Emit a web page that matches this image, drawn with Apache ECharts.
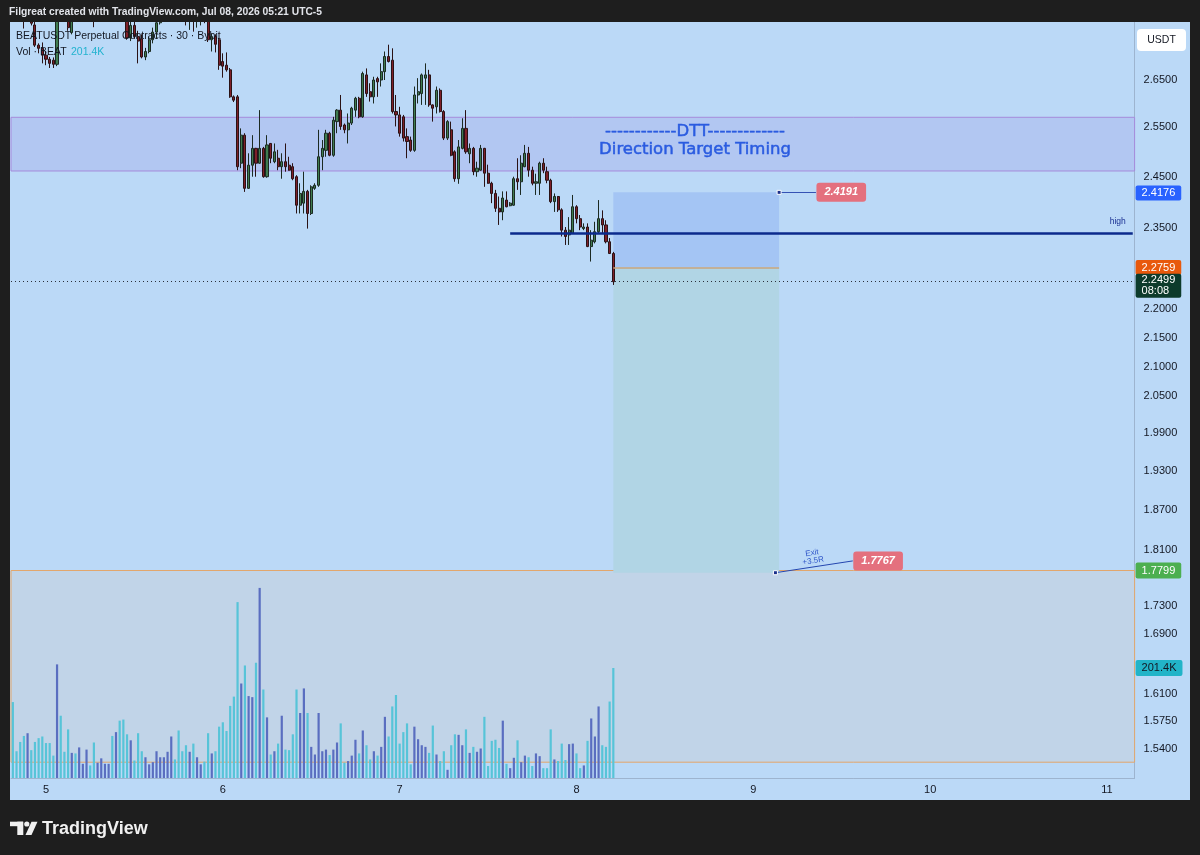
<!DOCTYPE html>
<html><head><meta charset="utf-8">
<script src="https://cdn.jsdelivr.net/npm/echarts@6/dist/echarts.min.js"></script>
<style>html,body{margin:0;padding:0;background:#1e1e1e;}#c{width:1200px;height:855px;}</style>
</head><body><div id="c"></div>
<script>
// ---- data (30-minute candles, BEATUSDT) : [open, close, low, high]
const candles = [
[2.815,2.805,2.795,2.830],[2.805,2.800,2.790,2.818],[2.800,2.795,2.785,2.812],[2.795,2.788,2.763,2.805],
[2.788,2.800,2.782,2.810],[2.800,2.775,2.770,2.808],[2.771,2.726,2.722,2.790],[2.726,2.719,2.708,2.730],
[2.719,2.704,2.686,2.732],[2.704,2.695,2.682,2.712],[2.695,2.686,2.676,2.700],[2.693,2.684,2.676,2.699],
[2.684,2.795,2.680,2.805],[2.795,2.788,2.780,2.808],[2.788,2.782,2.779,2.800],[2.782,2.765,2.758,2.790],
[2.754,2.792,2.750,2.805],[2.792,2.785,2.780,2.800],[2.785,2.800,2.781,2.810],[2.800,2.808,2.795,2.815],
[2.808,2.815,2.800,2.825],[2.815,2.805,2.798,2.820],[2.805,2.790,2.766,2.810],[2.790,2.806,2.784,2.815],
[2.806,2.815,2.800,2.826],[2.815,2.822,2.808,2.830],[2.822,2.828,2.815,2.836],[2.828,2.812,2.805,2.835],
[2.812,2.820,2.805,2.830],[2.820,2.800,2.790,2.826],[2.800,2.785,2.779,2.806],[2.785,2.742,2.738,2.792],
[2.742,2.770,2.735,2.785],[2.770,2.745,2.740,2.780],[2.745,2.735,2.686,2.758],[2.740,2.700,2.697,2.750],
[2.700,2.712,2.693,2.720],[2.712,2.738,2.708,2.745],[2.738,2.755,2.730,2.765],[2.755,2.776,2.740,2.790],
[2.776,2.800,2.772,2.812],[2.800,2.815,2.792,2.826],[2.815,2.822,2.806,2.830],[2.822,2.835,2.815,2.845],
[2.835,2.826,2.815,2.840],[2.826,2.805,2.796,2.832],[2.805,2.796,2.785,2.812],[2.796,2.785,2.770,2.805],
[2.785,2.795,2.760,2.808],[2.795,2.785,2.756,2.805],[2.785,2.795,2.765,2.805],[2.795,2.800,2.770,2.808],
[2.800,2.788,2.775,2.805],[2.788,2.738,2.733,2.795],[2.738,2.745,2.712,2.752],[2.745,2.728,2.710,2.750],
[2.738,2.682,2.672,2.742],[2.690,2.680,2.655,2.708],[2.682,2.672,2.668,2.710],[2.672,2.614,2.612,2.676],
[2.614,2.607,2.603,2.617],[2.614,2.470,2.463,2.618],[2.477,2.534,2.467,2.548],[2.534,2.427,2.420,2.538],
[2.427,2.473,2.426,2.497],[2.473,2.507,2.450,2.534],[2.507,2.477,2.450,2.508],[2.477,2.507,2.476,2.586],
[2.507,2.450,2.448,2.510],[2.450,2.514,2.448,2.534],[2.517,2.487,2.477,2.518],[2.480,2.500,2.477,2.517],
[2.487,2.470,2.463,2.504],[2.470,2.480,2.446,2.497],[2.480,2.470,2.460,2.517],[2.473,2.463,2.462,2.490],
[2.470,2.446,2.443,2.477],[2.450,2.394,2.378,2.453],[2.394,2.417,2.378,2.437],[2.398,2.421,2.378,2.460],
[2.421,2.378,2.349,2.424],[2.378,2.430,2.375,2.433],[2.427,2.433,2.424,2.437],[2.433,2.490,2.430,2.545],
[2.490,2.507,2.463,2.524],[2.503,2.538,2.490,2.545],[2.538,2.493,2.491,2.541],[2.493,2.565,2.490,2.572],
[2.562,2.586,2.538,2.588],[2.586,2.552,2.545,2.618],[2.555,2.545,2.538,2.558],[2.545,2.559,2.517,2.579],
[2.559,2.590,2.555,2.593],[2.586,2.611,2.572,2.614],[2.611,2.572,2.569,2.614],[2.572,2.664,2.570,2.668],
[2.661,2.621,2.614,2.675],[2.625,2.614,2.604,2.643],[2.614,2.650,2.600,2.657],[2.653,2.646,2.614,2.657],
[2.650,2.668,2.636,2.686],[2.668,2.701,2.650,2.712],[2.701,2.690,2.688,2.727],[2.693,2.583,2.579,2.719],
[2.583,2.576,2.552,2.618],[2.576,2.538,2.531,2.593],[2.572,2.528,2.521,2.576],[2.531,2.521,2.487,2.548],
[2.524,2.503,2.500,2.531],[2.503,2.618,2.500,2.636],[2.618,2.625,2.600,2.654],[2.621,2.661,2.597,2.664],
[2.654,2.661,2.597,2.686],[2.661,2.597,2.593,2.672],[2.597,2.590,2.562,2.598],[2.593,2.628,2.579,2.636],
[2.628,2.583,2.581,2.632],[2.583,2.528,2.524,2.586],[2.528,2.562,2.524,2.565],[2.545,2.493,2.491,2.562],
[2.500,2.446,2.440,2.503],[2.446,2.510,2.436,2.524],[2.507,2.548,2.505,2.569],[2.548,2.500,2.496,2.586],
[2.496,2.507,2.477,2.517],[2.507,2.460,2.453,2.510],[2.460,2.467,2.450,2.480],[2.463,2.507,2.462,2.514],
[2.507,2.457,2.430,2.508],[2.457,2.437,2.436,2.474],[2.437,2.417,2.398,2.440],[2.417,2.388,2.381,2.424],
[2.388,2.381,2.356,2.411],[2.381,2.408,2.365,2.421],[2.404,2.391,2.390,2.421],[2.393,2.398,2.392,2.400],
[2.394,2.446,2.393,2.450],[2.446,2.440,2.424,2.487],[2.440,2.477,2.414,2.493],[2.470,2.497,2.469,2.514],
[2.497,2.463,2.450,2.510],[2.463,2.437,2.433,2.470],[2.437,2.440,2.414,2.456],[2.437,2.477,2.414,2.480],
[2.477,2.463,2.457,2.487],[2.460,2.443,2.437,2.470],[2.443,2.401,2.398,2.446],[2.401,2.411,2.381,2.417],
[2.411,2.385,2.381,2.412],[2.385,2.346,2.334,2.388],[2.346,2.334,2.318,2.352],[2.337,2.346,2.318,2.371],
[2.340,2.391,2.339,2.414],[2.391,2.368,2.359,2.394],[2.368,2.352,2.346,2.375],[2.349,2.352,2.346,2.359],
[2.352,2.315,2.314,2.359],[2.315,2.327,2.287,2.346],[2.324,2.343,2.321,2.362],[2.343,2.368,2.340,2.404],
[2.368,2.356,2.340,2.384],[2.356,2.324,2.321,2.365],[2.324,2.302,2.301,2.331],[2.302,2.2499,2.244,2.305]
];
// volume, thousands of BEAT
const volumesK = [
139,49,66,77,82,51,66,73,76,64, 64,41,208,114,48,89,46,45,56,26,
52,23,65,28,36,26,26,77,84,105, 107,80,69,32,82,49,38,25,29,49,
38,38,48,76,34,87,49,60,48,63, 38,25,30,82,45,49,94,102,86,132,
149,322,173,206,150,148,211,348,162,111, 43,49,63,114,52,51,80,162,119,164,
119,57,43,119,49,52,42,52,65,100, 28,31,41,70,45,87,60,34,49,41,
57,112,76,131,152,63,84,100,25,94, 71,60,57,46,96,43,31,49,15,60,
80,79,60,89,46,57,48,54,112,22, 68,70,55,105,26,18,37,69,29,41,
38,22,45,40,18,18,89,34,31,63, 33,62,63,45,18,23,68,109,76,131,
60,57,140,201.4
];
const priceTicks = [2.65,2.55,2.45,2.35,2.20,2.15,2.10,2.05,1.99,1.93,1.87,1.81,1.73,1.69,1.61,1.575,1.54];
const dayTickLabels = ['5','6','7','8','9','10','11'];
const priceRange = [1.5041, 2.7777];
const volumeAxisMaxK = 1384;
const dttZone = [2.4614, 2.5710];
const lowerZone = [1.5235, 1.7799];
const highLevel = 2.3406;
const lastPrice = 2.2499, lastVolumeK = 201.4, countdown = '08:08';
const entryPrice = 2.2759, stopPrice = 2.4191, targetPrice = 1.7767, stopAxisPrice = 2.4176;
const positionSlots = [163, 208];   // candle slots spanned by the short-position tool
const highLineStart = 135;
const exitLabelLevel = 1.7938;

// ---- time slots: 30 minute steps starting Jul 4 19:30
const slotCount = 305, firstDay = 4, startMinutes = 19 * 60 + 30;
const categories = [];
for (let k = 0; k < slotCount; k++) {
  const m = startMinutes + 30 * k;
  const d = firstDay + Math.floor(m / 1440), hm = m % 1440;
  categories.push(d + ' ' + String(Math.floor(hm / 60)).padStart(2, '0') + ':' + String(hm % 60).padStart(2, '0'));
}
const L = Math.log;
const fmt4 = v => v.toFixed(4);

const axisBox = (text, bg, fg, extra) => Object.assign({
  show: true, position: 'end', distance: 1, formatter: text, backgroundColor: bg, color: fg,
  fontSize: 11, fontFamily: 'Liberation Sans', lineHeight: 11, padding: [2, 6, 2, 6], borderRadius: 2
}, extra || {});

const chart = echarts.init(document.getElementById('c'), null, {renderer: 'canvas'});
const option = {
  backgroundColor: '#1e1e1e',
  animation: false,
  grid: {left: 11, right: 65.4, top: 22, bottom: 77},
  xAxis: {
    type: 'category', data: categories, boundaryGap: true,
    axisLine: {show: true, lineStyle: {color: '#9db4cf', width: 1}},
    axisTick: {show: false}, splitLine: {show: false},
    axisLabel: {
      interval: (i, v) => v.endsWith(' 00:00'),
      formatter: v => { const d = v.split(' ')[0]; return dayTickLabels.includes(d) ? d : ''; },
      color: '#131722', fontSize: 11, fontFamily: 'Liberation Sans', margin: 6
    }
  },
  yAxis: [{
    type: 'value', position: 'right', min: L(priceRange[0]), max: L(priceRange[1]),
    splitLine: {show: false}, axisTick: {show: false},
    axisLine: {show: true, lineStyle: {color: '#9db4cf'}},
    axisLabel: {customValues: priceTicks.map(L), formatter: v => Math.exp(v).toFixed(4),
      color: '#131722', fontSize: 11, fontFamily: 'Liberation Sans', margin: 9}
  }, {
    type: 'value', min: 0, max: volumeAxisMaxK, show: false
  }],
  series: [{
    type: 'candlestick', name: 'BEATUSDT',
    data: candles.map(c => c.map(L)),
    barWidth: 2.6, clip: true,
    itemStyle: {color: '#3f7c50', color0: '#7e1f29', borderColor: '#1c2a22', borderColor0: '#2a1215', borderWidth: 1},
    markArea: {
      silent: true,
      data: [
        [{yAxis: L(dttZone[1]), itemStyle: {color: '#b2c7f2', borderColor: '#a68bdb', borderWidth: 1}}, {yAxis: L(dttZone[0])}],
        [{yAxis: L(lowerZone[1]), itemStyle: {color: '#c1d4e8', borderColor: '#e2a66c', borderWidth: 1}}, {yAxis: L(lowerZone[0])}],
        [{coord: [positionSlots[0], L(stopPrice)], itemStyle: {color: '#a4c5f4'}}, {coord: [positionSlots[1], L(entryPrice)]}],
        [{coord: [positionSlots[0], L(entryPrice)], itemStyle: {color: '#b1d5e5'}}, {coord: [positionSlots[1], L(targetPrice)]}]
      ]
    },
    markLine: {
      silent: true, symbol: ['none', 'none'], animation: false, precision: 10,
      data: [
        [{coord: [highLineStart, L(highLevel)], lineStyle: {color: '#0b2a8c', width: 2.5, type: 'solid'},
          label: {show: true, position: 'insideEndTop', formatter: 'high', fontSize: 8.5, color: '#1b3193', distance: 7, fontFamily: 'Liberation Sans'}},
         {coord: [slotCount - 1, L(highLevel)]}],
        [{coord: [positionSlots[0], L(entryPrice)], lineStyle: {color: '#c9a47c', width: 1.5, type: 'solid'}, label: {show: false}},
         {coord: [positionSlots[1], L(entryPrice)]}],
        [{coord: [positionSlots[1], L(stopPrice)], lineStyle: {color: '#3552b4', width: 1, type: 'solid'}, label: {show: false}},
         {coord: [218, L(stopPrice)]}],
        [{coord: [positionSlots[1] - 1, L(targetPrice)], lineStyle: {color: '#2446b0', width: 1, type: 'solid'},
          label: {show: true, position: 'middle', formatter: 'Exit\n+3.5R', fontSize: 8, lineHeight: 8, color: '#2f55c9', distance: 2, fontFamily: 'Liberation Sans'}},
         {coord: [228, L(exitLabelLevel)]}],
        {yAxis: L(stopAxisPrice), lineStyle: {color: 'rgba(0,0,0,0)'}, label: axisBox(fmt4(stopAxisPrice), '#2962ff', '#ffffff')},
        {yAxis: L(entryPrice), lineStyle: {color: 'rgba(0,0,0,0)'}, label: axisBox(fmt4(entryPrice), '#e8590c', '#ffffff')},
        {yAxis: L(lastPrice), lineStyle: {color: '#2b2f3a', type: [1, 3], width: 1},
          label: axisBox(fmt4(lastPrice) + '\n' + countdown, '#0d3b2b', '#ffffff', {offset: [0, 4], padding: [1, 6, 1, 6]})},
        {yAxis: L(lowerZone[1]), lineStyle: {color: 'rgba(0,0,0,0)'}, label: axisBox(fmt4(lowerZone[1]), '#4caf50', '#ffffff', {padding: [3, 6, 2, 6]})}
      ]
    },
    markPoint: {
      silent: true, animation: false, symbol: 'rect', symbolSize: 4,
      data: [
        {coord: [positionSlots[1], L(stopPrice)], itemStyle: {color: '#1a2f8a', borderColor: '#ffffff', borderWidth: 1}, label: {show: false}},
        {coord: [positionSlots[1] - 1, L(targetPrice)], itemStyle: {color: '#1a2f8a', borderColor: '#ffffff', borderWidth: 1}, label: {show: false}},
        {coord: [218, L(stopPrice)], symbolSize: 1, itemStyle: {color: 'rgba(0,0,0,0)'},
          label: {show: true, position: 'right', distance: 0, formatter: fmt4(stopPrice), backgroundColor: '#e4707e', color: '#ffffff',
            fontStyle: 'italic', fontWeight: 'bold', fontSize: 11, fontFamily: 'Liberation Sans', padding: [4, 8], borderRadius: 3}},
        {coord: [228, L(exitLabelLevel)], symbolSize: 1, itemStyle: {color: 'rgba(0,0,0,0)'},
          label: {show: true, position: 'right', distance: 0, formatter: fmt4(targetPrice), backgroundColor: '#e4707e', color: '#ffffff',
            fontStyle: 'italic', fontWeight: 'bold', fontSize: 11, fontFamily: 'Liberation Sans', padding: [4, 8], borderRadius: 3}}
      ]
    }
  }, {
    type: 'bar', name: 'Vol', yAxisIndex: 1, z: 3, barWidth: 2.2,
    data: volumesK.map((v, i) => ({value: v, itemStyle: {color: candles[i][1] >= candles[i][0] ? '#5a6ec0' : '#57c4d8'}})),
    markLine: {
      silent: true, symbol: ['none', 'none'], animation: false, precision: 10,
      data: [{yAxis: lastVolumeK, lineStyle: {color: 'rgba(0,0,0,0)'}, label: axisBox(lastVolumeK + 'K', '#22b4c8', '#131722', {padding: [3, 6, 2, 6]})}]
    }
  }],
  graphic: [
    {type: 'rect', silent: true, z: -100, shape: {x: 10, y: 22, width: 1180, height: 778}, style: {fill: '#bbd9f7'}},
    {type: 'rect', silent: true, z: 100, shape: {x: 0, y: 0, width: 1200, height: 22}, style: {fill: '#1e1e1e'}},
    {type: 'text', silent: true, z: 101, x: 9, y: 12, style: {text: 'Filgreat created with TradingView.com, Jul 08, 2026 05:21 UTC-5',
      fill: '#e2e4ea', fontSize: 10.3, fontWeight: 'bold', fontFamily: 'Liberation Sans', verticalAlign: 'middle'}},
    {type: 'text', silent: true, x: 16, y: 36, z: 10, style: {text: 'BEATUSDT Perpetual Contracts · 30 · Bybit',
      fill: '#131722', fontSize: 10.5, fontFamily: 'Liberation Sans', verticalAlign: 'middle'}},
    {type: 'text', silent: true, x: 16, y: 52, z: 10, style: {text: 'Vol · BEAT', fill: '#131722', fontSize: 10.5, fontFamily: 'Liberation Sans', verticalAlign: 'middle'}},
    {type: 'text', silent: true, x: 71, y: 52, z: 10, style: {text: lastVolumeK + 'K', fill: '#22b3cf', fontSize: 10.5, fontFamily: 'Liberation Sans', verticalAlign: 'middle'}},
    {type: 'text', silent: true, x: 695, y: 131.5, z: 10, style: {text: '------------DTT-------------', fill: '#2a5be0', stroke: '#2a5be0', lineWidth: 0.5, fontSize: 16.5, fontFamily: 'DejaVu Sans', align: 'center', verticalAlign: 'middle'}},
    {type: 'text', silent: true, x: 695, y: 149.5, z: 10, style: {text: 'Direction Target Timing', fill: '#2a5be0', stroke: '#2a5be0', lineWidth: 0.5, fontSize: 16.5, fontFamily: 'DejaVu Sans', align: 'center', verticalAlign: 'middle'}},
    {type: 'rect', silent: true, z: 10, shape: {x: 1137, y: 29, width: 49, height: 22, r: 4}, style: {fill: '#ffffff'}},
    {type: 'text', silent: true, x: 1161.5, y: 40, z: 11, style: {text: 'USDT', fill: '#131722', fontSize: 10.5, fontFamily: 'Liberation Sans', align: 'center', verticalAlign: 'middle'}},
    {type: 'rect', silent: true, shape: {x: 10, y: 821.7, width: 13, height: 4.5}, style: {fill: '#f0f0f0'}},
    {type: 'rect', silent: true, shape: {x: 17.3, y: 821.7, width: 6, height: 13.3}, style: {fill: '#f0f0f0'}},
    {type: 'circle', silent: true, shape: {cx: 26.8, cy: 824, r: 2.6}, style: {fill: '#f0f0f0'}},
    {type: 'polygon', silent: true, shape: {points: [[31.5, 821.7], [37.5, 821.7], [31.5, 835], [25.5, 835]]}, style: {fill: '#f0f0f0'}},
    {type: 'text', silent: true, x: 42, y: 829, style: {text: 'TradingView', fill: '#f0f0f0', fontSize: 18, fontWeight: 'bold', fontFamily: 'Liberation Sans', verticalAlign: 'middle'}}
  ]
};
chart.setOption(option);
</script>
</body></html>
